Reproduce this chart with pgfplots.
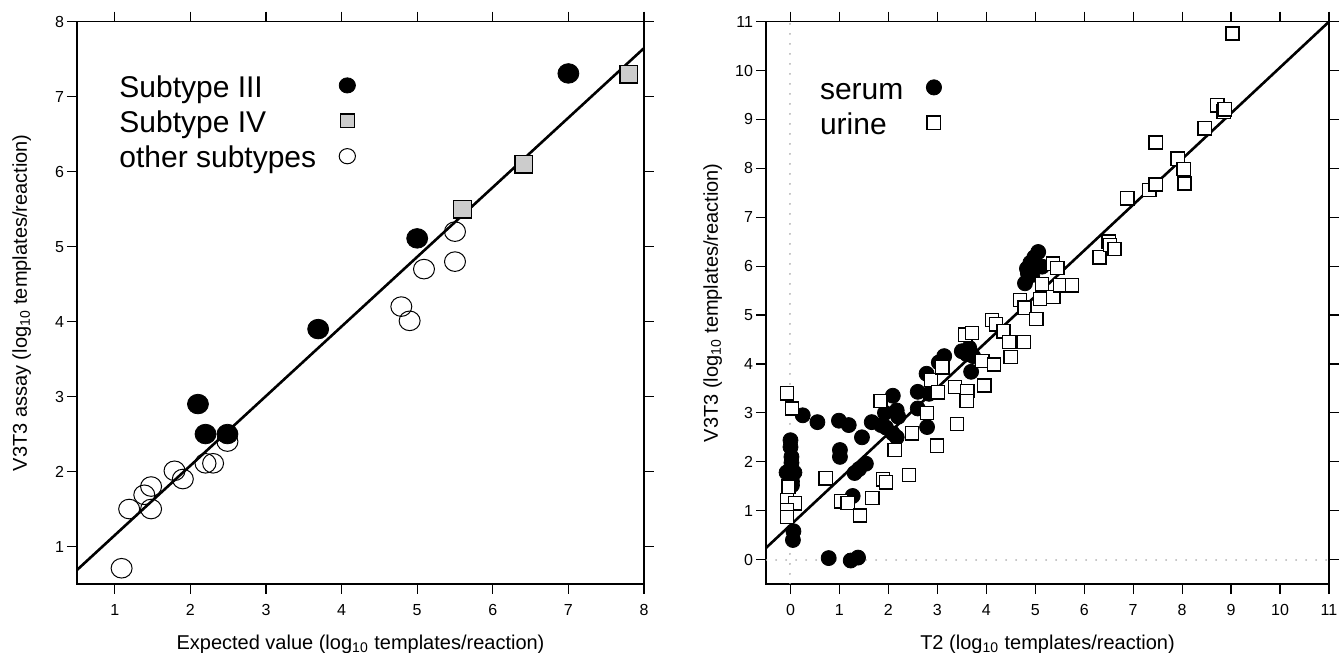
\documentclass[border=0pt]{standalone}
\usepackage{pgfplots}
\pgfplotsset{compat=1.18}
\usepackage{fontspec}
\setmainfont{Liberation Sans}

\pgfplotsset{
  myaxis/.style={
    scale only axis,
    anchor=south west,
    axis line style={line width=0.6pt},
    tick align=outside,
    major tick length=5pt,
    every tick/.style={black, line width=0.6pt},
    /pgf/number format/assume math mode=true,
    tick label style={font=\fontsize{8}{9}\selectfont},
    xticklabel style={yshift=-1.5pt},
    yticklabel style={xshift=2pt},
    label style={font=\fontsize{10}{12}\selectfont},
    xlabel style={at={(axis description cs:0.5,0)}, anchor=base, yshift=-33pt},
    legend plot pos=right,
    legend cell align=left,
    legend style={draw=none, fill=none, inner sep=0pt, row sep=0pt, column sep=11.5pt,
      font=\fontsize{15}{18}\selectfont,
      nodes={inner sep=0pt, text height=12.7pt, text depth=5pt},
      at={(axis description cs:0,1)}, anchor=north west},
  }
}

\begin{document}
\begin{tikzpicture}
\useasboundingbox (0,0) rectangle (670pt,326.5pt);

% ---------------- left panel ----------------
\begin{axis}[myaxis,
  at={(38.5pt,34.5pt)},
  width=283.5pt, height=281.15pt,
  xmin=0.5, xmax=8, ymin=0.5, ymax=8,
  xtick={1,...,8}, ytick={1,...,8},
  xlabel={Expected value (log\textsubscript{10} templates/reaction)},
  ylabel={V3T3 assay (log\textsubscript{10} templates/reaction)},
  ylabel style={at={(axis description cs:-0.0882,0.5)}, anchor=base},
  legend style={xshift=21pt, yshift=-24.8pt},
]
\addplot[black, line width=1.3pt, forget plot] coordinates {(0.5,0.687) (8,7.647)};
\addplot[only marks, mark=*, mark size=4.9pt, draw=black, fill=black,
  mark options={xscale=1.07},
  legend image post style={mark size=3.8pt, yshift=2pt}] coordinates {
  (2.1,2.9) (2.2,2.5) (2.49,2.5) (3.69,3.9) (5.0,5.11) (7.0,7.31)};
\addlegendentry{Subtype III}
\addplot[only marks, mark=square*, mark size=4.4pt, draw=black, fill=gray!40,
  mark options={line width=0.6pt},
  legend image post style={mark size=3.4pt, yshift=2pt}] coordinates {
  (5.6,5.5) (6.41,6.1) (7.8,7.3)};
\addlegendentry{Subtype IV}
\addplot[only marks, mark=o, mark size=4.9pt, draw=black,
  mark options={xscale=1.07, line width=0.5pt},
  legend image post style={mark size=3.8pt, yshift=2pt}] coordinates {
  (1.09,0.71) (1.19,1.5) (1.39,1.69) (1.48,1.8) (1.48,1.5) (1.79,2.01)
  (1.9,1.9) (2.2,2.11) (2.3,2.11) (2.49,2.4) (4.79,4.2) (4.9,4.01)
  (5.09,4.7) (5.5,5.2) (5.5,4.8)};
\addlegendentry{other subtypes}
\end{axis}

% ---------------- right panel ----------------
\begin{axis}[myaxis,
  at={(383pt,34.5pt)},
  width=281.5pt, height=281.15pt,
  xmin=-0.5, xmax=11, ymin=-0.5, ymax=11,
  xtick={0,...,11}, ytick={0,...,11},
  xlabel={T2 (log\textsubscript{10} templates/reaction)},
  ylabel={V3T3 (log\textsubscript{10} templates/reaction)},
  ylabel style={at={(axis description cs:-0.0853,0.5)}, anchor=base},
  legend style={xshift=26.8pt, yshift=-25.8pt},
]
\addplot[black, line width=1.3pt, forget plot] coordinates {(-0.5,0.238) (11,11)};
\addplot[only marks, mark=*, mark size=3.75pt, draw=black, fill=black,
  legend image post style={mark size=3.8pt, yshift=2pt}] coordinates {
  (0,2.44) (0,2.3) (0.02,2.1) (0.02,1.98) (-0.08,1.78) (0.08,1.78) (0.03,1.6) (0.03,1.52)
  (0.06,0.58) (0.05,0.4)
  (0.25,2.95) (0.55,2.81) (0.99,2.84) (1.19,2.75) (1.01,2.24) (1.01,2.1) (1.46,2.5)
  (1.31,1.77) (1.54,1.96) (1.4,1.85) (1.27,1.3) (0.78,0.03) (1.23,-0.02) (1.38,0.04)
  (1.66,2.81) (1.85,2.75) (1.93,3.0) (2.09,3.35) (2.17,3.05) (2.2,2.92) (2.09,2.58)
  (2.17,2.5) (1.95,2.7) (2.6,3.09) (2.6,3.43) (2.79,2.71) (2.78,3.8) (2.83,3.39)
  (3.03,4.03) (3.14,4.16) (3.5,4.26) (3.65,4.33) (3.69,3.84) (3.73,4.16) (3.6,4.2)
  (4.79,5.65) (4.83,5.95) (4.9,6.07) (4.98,6.18) (5.06,6.29) (5.14,5.99) (4.94,5.82)
  (4.85,5.85) (5.0,6.0)};
\addlegendentry{serum}
\addplot[only marks, mark=square*, mark size=3.3pt, draw=black, fill=white,
  mark options={line width=0.7pt},
  legend image post style={mark size=3.4pt, yshift=2pt}] coordinates {
  (-0.07,3.4) (0.03,3.09) (-0.04,1.49) (-0.07,1.21) (0.09,1.15) (-0.07,1.01) (-0.07,0.87)
  (0.72,1.66) (1.03,1.19) (1.17,1.16) (1.42,0.9) (1.67,1.26) (1.89,1.64) (1.95,1.58)
  (2.42,1.73) (1.84,3.24) (2.13,2.24) (2.48,2.58) (2.79,3.0) (2.87,3.67) (2.99,2.33)
  (3.01,3.42) (3.1,3.93) (3.36,3.53) (3.4,2.77) (3.61,3.45) (3.6,3.24) (3.57,4.6)
  (3.71,4.63) (3.92,4.06) (3.96,3.56) (4.16,3.99) (4.12,4.9) (4.2,4.81) (4.35,4.67)
  (4.47,4.45) (4.5,4.14) (4.77,4.45) (4.69,5.31) (4.78,5.15) (5.02,4.92) (5.1,5.33)
  (5.14,5.63) (5.37,5.37) (5.51,5.61) (5.75,5.61) (5.36,6.05) (5.45,5.96)
  (6.31,6.18) (6.5,6.5) (6.53,6.43) (6.62,6.35) (6.88,7.39) (7.33,7.56) (7.46,7.67)
  (7.46,8.53) (7.91,8.2) (8.03,7.99) (8.05,7.69) (8.46,8.82) (8.72,9.29) (8.85,9.16)
  (8.87,9.21) (9.03,10.76)};
\addlegendentry{urine}
\addplot[gray!60, line width=1pt, line cap=round, dash pattern=on 0.1pt off 4.9pt, forget plot]
  coordinates {(0,-0.5) (0,11)};
\addplot[gray!60, line width=1pt, line cap=round, dash pattern=on 0.1pt off 4.9pt, forget plot]
  coordinates {(-0.5,0) (11,0)};
\end{axis}
\end{tikzpicture}
\end{document}
